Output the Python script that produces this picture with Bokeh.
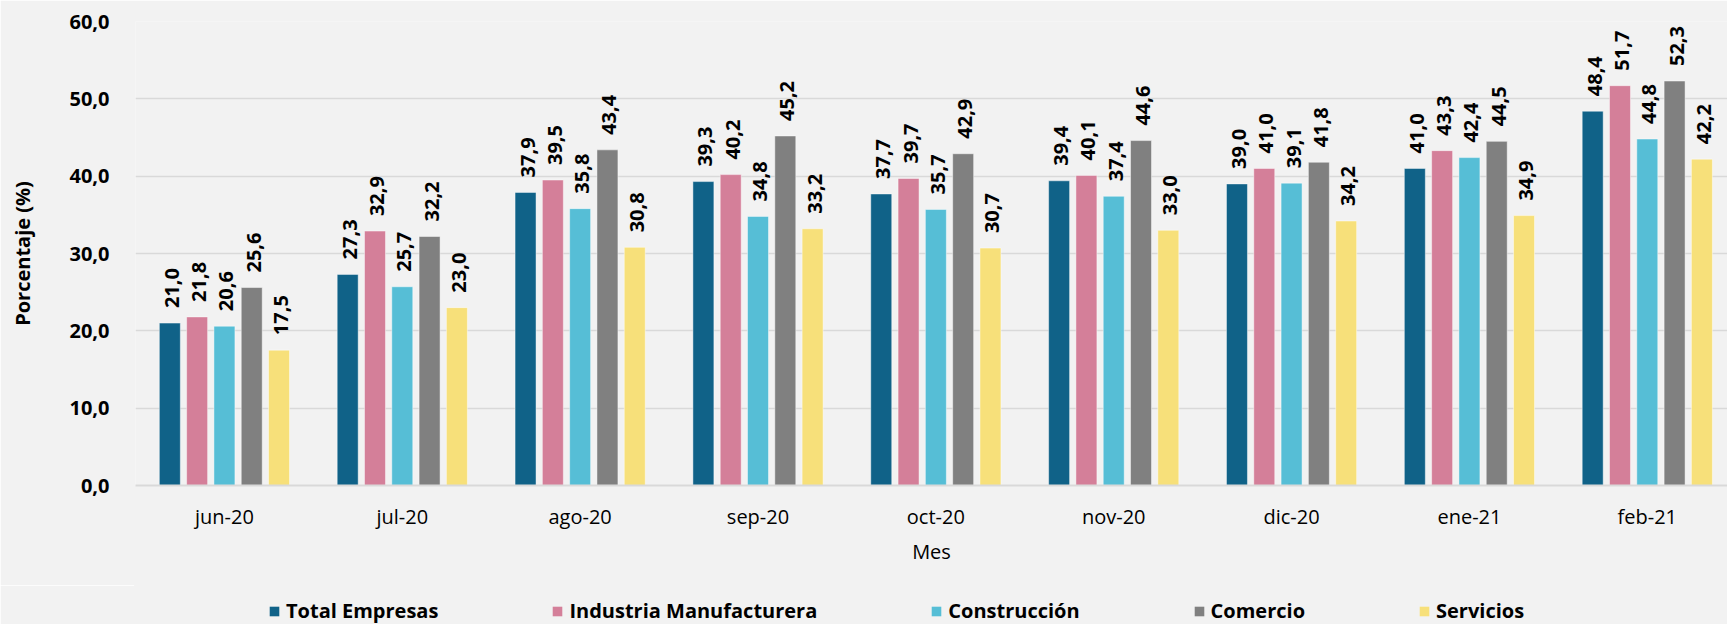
import math
from bokeh.plotting import figure
from bokeh.layouts import column
from bokeh.models import (Range1d, FixedTicker, Legend, LegendItem,
                          ColumnDataSource)
from bokeh.core.properties import value
from bokeh.transform import dodge
from bokeh.embed import file_html
from bokeh.resources import INLINE

# ---------------- data ----------------
meses = ["jun-20", "jul-20", "ago-20", "sep-20", "oct-20",
         "nov-20", "dic-20", "ene-21", "feb-21"]
series = ["Total Empresas", "Industria Manufacturera", "Construcción",
          "Comercio", "Servicios"]
total_empresas = [21.0, 27.3, 37.9, 39.3, 37.7, 39.4, 39.0, 41.0, 48.4]
industria = [21.8, 32.9, 39.5, 40.2, 39.7, 40.1, 41.0, 43.3, 51.7]
construccion = [20.6, 25.7, 35.8, 34.8, 35.7, 37.4, 39.1, 42.4, 44.8]
comercio = [25.6, 32.2, 43.4, 45.2, 42.9, 44.6, 41.8, 44.5, 52.3]
servicios = [17.5, 23.0, 30.8, 33.2, 30.7, 33.0, 34.2, 34.9, 42.2]
y_ticks = [0, 10, 20, 30, 40, 50, 60]
y_tick_labels = ["0,0", "10,0", "20,0", "30,0", "40,0", "50,0", "60,0"]

valores = [total_empresas, industria, construccion, comercio, servicios]
colores = ["#106288", "#d47f99", "#56bed6", "#808080", "#f7e07a"]

FONT = "Open Sans"
BG = "#f2f2f2"
GRID = "#d9d9d9"

x_idx = list(range(len(meses)))

p = figure(width=1727, height=585, output_backend="svg",
           toolbar_location=None,
           x_range=Range1d(-0.5, 8.451), y_range=Range1d(0, 60),
           min_border_left=135, min_border_right=0,
           min_border_top=21, min_border_bottom=100)
p.background_fill_color = BG
p.border_fill_color = BG
p.outline_line_color = None

pitch = 0.1535
bw = 0.118
for k, (name, vals, col) in enumerate(zip(series, valores, colores)):
    src = ColumnDataSource(dict(
        x=x_idx, v=vals,
        lbl=[f"{v:.1f}".replace(".", ",") for v in vals]))
    off = (k - 2) * pitch
    p.vbar(x=dodge("x", off), top="v", width=bw, source=src,
           fill_color=col, line_color="white", line_alpha=0.45,
           line_width=1)
    p.text(x=dodge("x", off), y="v", text="lbl", source=src,
           angle=math.pi / 2, text_align="left", text_baseline="middle",
           x_offset=2, y_offset=-15,
           text_font=value(FONT), text_font_style="bold",
           text_font_size="20px", text_color="black")

# axes
xa = p.xaxis[0]
xa.ticker = FixedTicker(ticks=x_idx)
xa.major_label_overrides = {i: m for i, m in zip(x_idx, meses)}
xa.axis_line_color = GRID
xa.axis_line_width = 2
xa.major_tick_line_color = None
xa.minor_tick_line_color = None
xa.major_label_standoff = 11
xa.major_label_text_font = FONT
xa.major_label_text_font_size = "20px"
xa.major_label_text_color = "black"
xa.axis_label = "Mes"
xa.axis_label_standoff = 5
xa.axis_label_text_font = FONT
xa.axis_label_text_font_size = "20px"
xa.axis_label_text_font_style = "normal"
xa.axis_label_text_color = "black"

ya = p.yaxis[0]
ya.ticker = FixedTicker(ticks=y_ticks)
ya.major_label_overrides = {t: l for t, l in zip(y_ticks, y_tick_labels)}
ya.axis_line_color = None
ya.major_tick_line_color = None
ya.minor_tick_line_color = None
ya.major_label_standoff = 20
ya.major_label_text_font = FONT
ya.major_label_text_font_style = "bold"
ya.major_label_text_font_size = "20px"
ya.major_label_text_color = "black"
ya.axis_label = "Porcentaje (%)"
ya.axis_label_standoff = 30
ya.axis_label_text_font = FONT
ya.axis_label_text_font_style = "bold"
ya.axis_label_text_font_size = "20px"
ya.axis_label_text_color = "black"

p.xgrid.grid_line_color = None
p.ygrid.grid_line_color = GRID
p.ygrid.grid_line_width = 1.5

# ---------------- legend strip ----------------
lf = figure(width=1727, height=39, output_backend="svg",
            toolbar_location=None, x_axis_type=None, y_axis_type=None,
            x_range=Range1d(0, 1), y_range=Range1d(0, 1),
            min_border=0, min_border_left=135)
lf.background_fill_color = BG
lf.border_fill_color = BG
lf.outline_line_color = BG
lf.outline_line_width = 3
lf.xgrid.grid_line_color = None
lf.ygrid.grid_line_color = None

items = []
for name, col in zip(series, colores):
    # zero-height proxy bar: only its swatch is shown in the legend
    r = lf.vbar(x=[0], top=[0], width=0.1, fill_color=col, line_color=None)
    items.append(LegendItem(label=name, renderers=[r]))

legend = Legend(items=items, orientation="horizontal",
                location=(133, 0),
                glyph_width=12, glyph_height=12, label_standoff=6,
                spacing=113, padding=0, margin=0,
                border_line_color=None, background_fill_alpha=0,
                label_text_font=FONT, label_text_font_style="bold",
                label_text_font_size="20px", label_text_color="black")
lf.add_layout(legend, "center")

page = column(p, lf, spacing=0)
open("out.html", "w").write(file_html(page, INLINE))
